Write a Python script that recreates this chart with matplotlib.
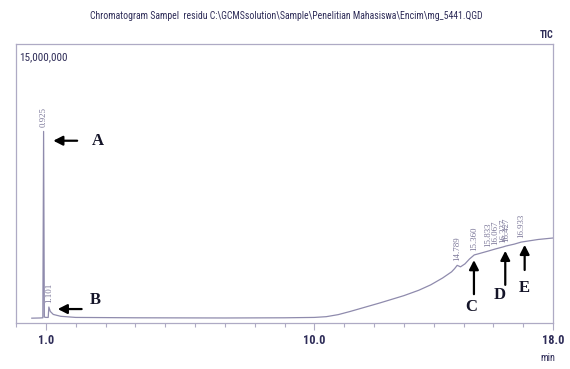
import matplotlib
matplotlib.use("Agg")
import matplotlib.pyplot as plt
from matplotlib import font_manager
from matplotlib.ticker import MultipleLocator, FixedLocator

# Total ion chromatogram trace (retention time in min, intensity in counts)
rt_min = [0.53, 0.80, 0.90, 0.925, 0.95, 1.00, 1.08, 1.101, 1.15, 1.25, 1.50,
          2.00, 4.00, 7.00, 9.00, 10.00, 10.40, 10.80, 11.20, 11.70, 12.20,
          13.00, 13.50, 13.90, 14.30, 14.60, 14.70, 14.789, 14.90, 15.05,
          15.20, 15.360, 15.50, 15.833, 16.067, 16.327, 16.427, 16.70, 16.933,
          17.50, 18.00]
intensity = [0.26e6, 0.27e6, 0.28e6, 10.3e6, 0.32e6, 0.30e6, 0.30e6, 0.86e6,
             0.62e6, 0.46e6, 0.36e6, 0.30e6, 0.28e6, 0.27e6, 0.28e6, 0.30e6,
             0.34e6, 0.45e6, 0.62e6, 0.85e6, 1.08e6, 1.47e6, 1.76e6, 2.05e6,
             2.42e6, 2.75e6, 2.92e6, 3.10e6, 3.02e6, 3.18e6, 3.44e6, 3.66e6,
             3.72e6, 3.87e6, 3.98e6, 4.09e6, 4.14e6, 4.24e6, 4.35e6, 4.49e6,
             4.57e6]

# Labelled peaks
peak_rt = [0.925, 1.101, 14.789, 15.360, 15.833, 16.067, 16.327, 16.427, 16.933]
peak_labels = ["0.925", "1.101", "14.789", "15.360", "15.833", "16.067",
               "16.327", "16.427", "16.933"]

# Annotated compounds: letter, arrow tip (rt, intensity), tail, letter position
marks = ["A", "B", "C", "D", "E"]
mark_tip = [(1.25, 9.8e6), (1.40, 0.75e6), (15.35, 3.38e6), (16.40, 3.88e6), (17.05, 4.20e6)]
mark_tail = [(2.05, 9.8e6), (2.20, 0.75e6), (15.35, 1.55e6), (16.40, 2.05e6), (17.05, 2.85e6)]
mark_text = [(2.75, 9.8e6), (2.65, 1.22e6), (15.27, 0.86e6), (16.20, 1.50e6), (17.05, 1.88e6)]

x_major = [1.0, 10.0, 18.0]
x_major_labels = ["1.0", "10.0", "18.0"]

frame_col = "#aeaac4"
trace_col = "#8f8bad"
text_col = "#2e2c58"

# Prefer a narrow sans face for the instrument-style captions
installed = {f.name for f in font_manager.fontManager.ttflist}
narrow_face = None
for cand in ["Liberation Sans Narrow", "DejaVu Sans Condensed", "Roboto Condensed",
             "Open Sans Condensed"]:
    if cand in installed:
        narrow_face = cand
        break
if narrow_face is None:
    narrow = dict(family=["DejaVu Sans"], fontstretch="condensed")
    title_size = 5.7
else:
    narrow = dict(family=[narrow_face, "DejaVu Sans"])
    title_size = 7.0

fig = plt.figure(figsize=(5.70, 3.69), dpi=100)
ax = fig.add_axes([16 / 570, 1 - 323 / 369, (553 - 16) / 570, (323 - 44) / 369])
ax.set_xlim(0, 18)
ax.set_ylim(0, 15e6)

ax.plot(rt_min, intensity, color=trace_col, lw=0.9)

# Peak retention-time labels
lookup = dict(zip(rt_min, intensity))
for rt, lab in zip(peak_rt, peak_labels):
    y = lookup.get(rt, 0)
    ax.annotate(lab, (rt, y), xytext=(0, 3), textcoords="offset points",
                rotation=90, ha="center", va="bottom", fontsize=6.4,
                color="#7a7698", family="Liberation Serif")

# Arrows and letters
for m, tip, tail, tp in zip(marks, mark_tip, mark_tail, mark_text):
    ax.annotate("", xy=tip, xytext=tail,
                arrowprops=dict(arrowstyle="-|>,head_length=0.55,head_width=0.28",
                                color="black", lw=1.6, shrinkA=0, shrinkB=0))
    ax.text(tp[0], tp[1], m, ha="center", va="center", fontsize=12,
            fontweight="bold", family="Liberation Serif", color="#141428")

for s in ax.spines.values():
    s.set_color(frame_col)
    s.set_linewidth(0.9)

ax.xaxis.set_major_locator(FixedLocator(x_major))
ax.set_xticklabels(x_major_labels)
ax.xaxis.set_minor_locator(MultipleLocator(1.0))
ax.tick_params(axis="x", which="major", length=5, width=0.8, color=frame_col,
               labelsize=8.8, labelcolor=text_col, pad=3)
ax.tick_params(axis="x", which="minor", length=3, width=0.8, color=frame_col)
for t in ax.get_xticklabels():
    t.set_fontproperties(font_manager.FontProperties(size=8.8, weight="bold", **{
        ("stretch" if k == "fontstretch" else k): v for k, v in narrow.items()}))
ax.set_yticks([])

fig.text(286 / 570, 1 - 16 / 369,
         "Chromatogram Sampel  residu C:\\GCMSsolution\\Sample\\Penelitian Mahasiswa\\Encim\\mg_5441.QGD",
         ha="center", va="center", fontsize=title_size, color=text_col, **narrow)
fig.text(547 / 570, 1 - 35 / 369, "TIC", ha="center", va="center",
         fontsize=7.2, color=text_col, fontweight="bold", **narrow)
fig.text(19 / 570, 1 - 57 / 369, "15,000,000", ha="left", va="center",
         fontsize=8, color=text_col, **narrow)
fig.text(548 / 570, 1 - 358 / 369, "min", ha="center", va="center",
         fontsize=7.4, color=text_col, **narrow)

fig.savefig("out.png", dpi=100)
